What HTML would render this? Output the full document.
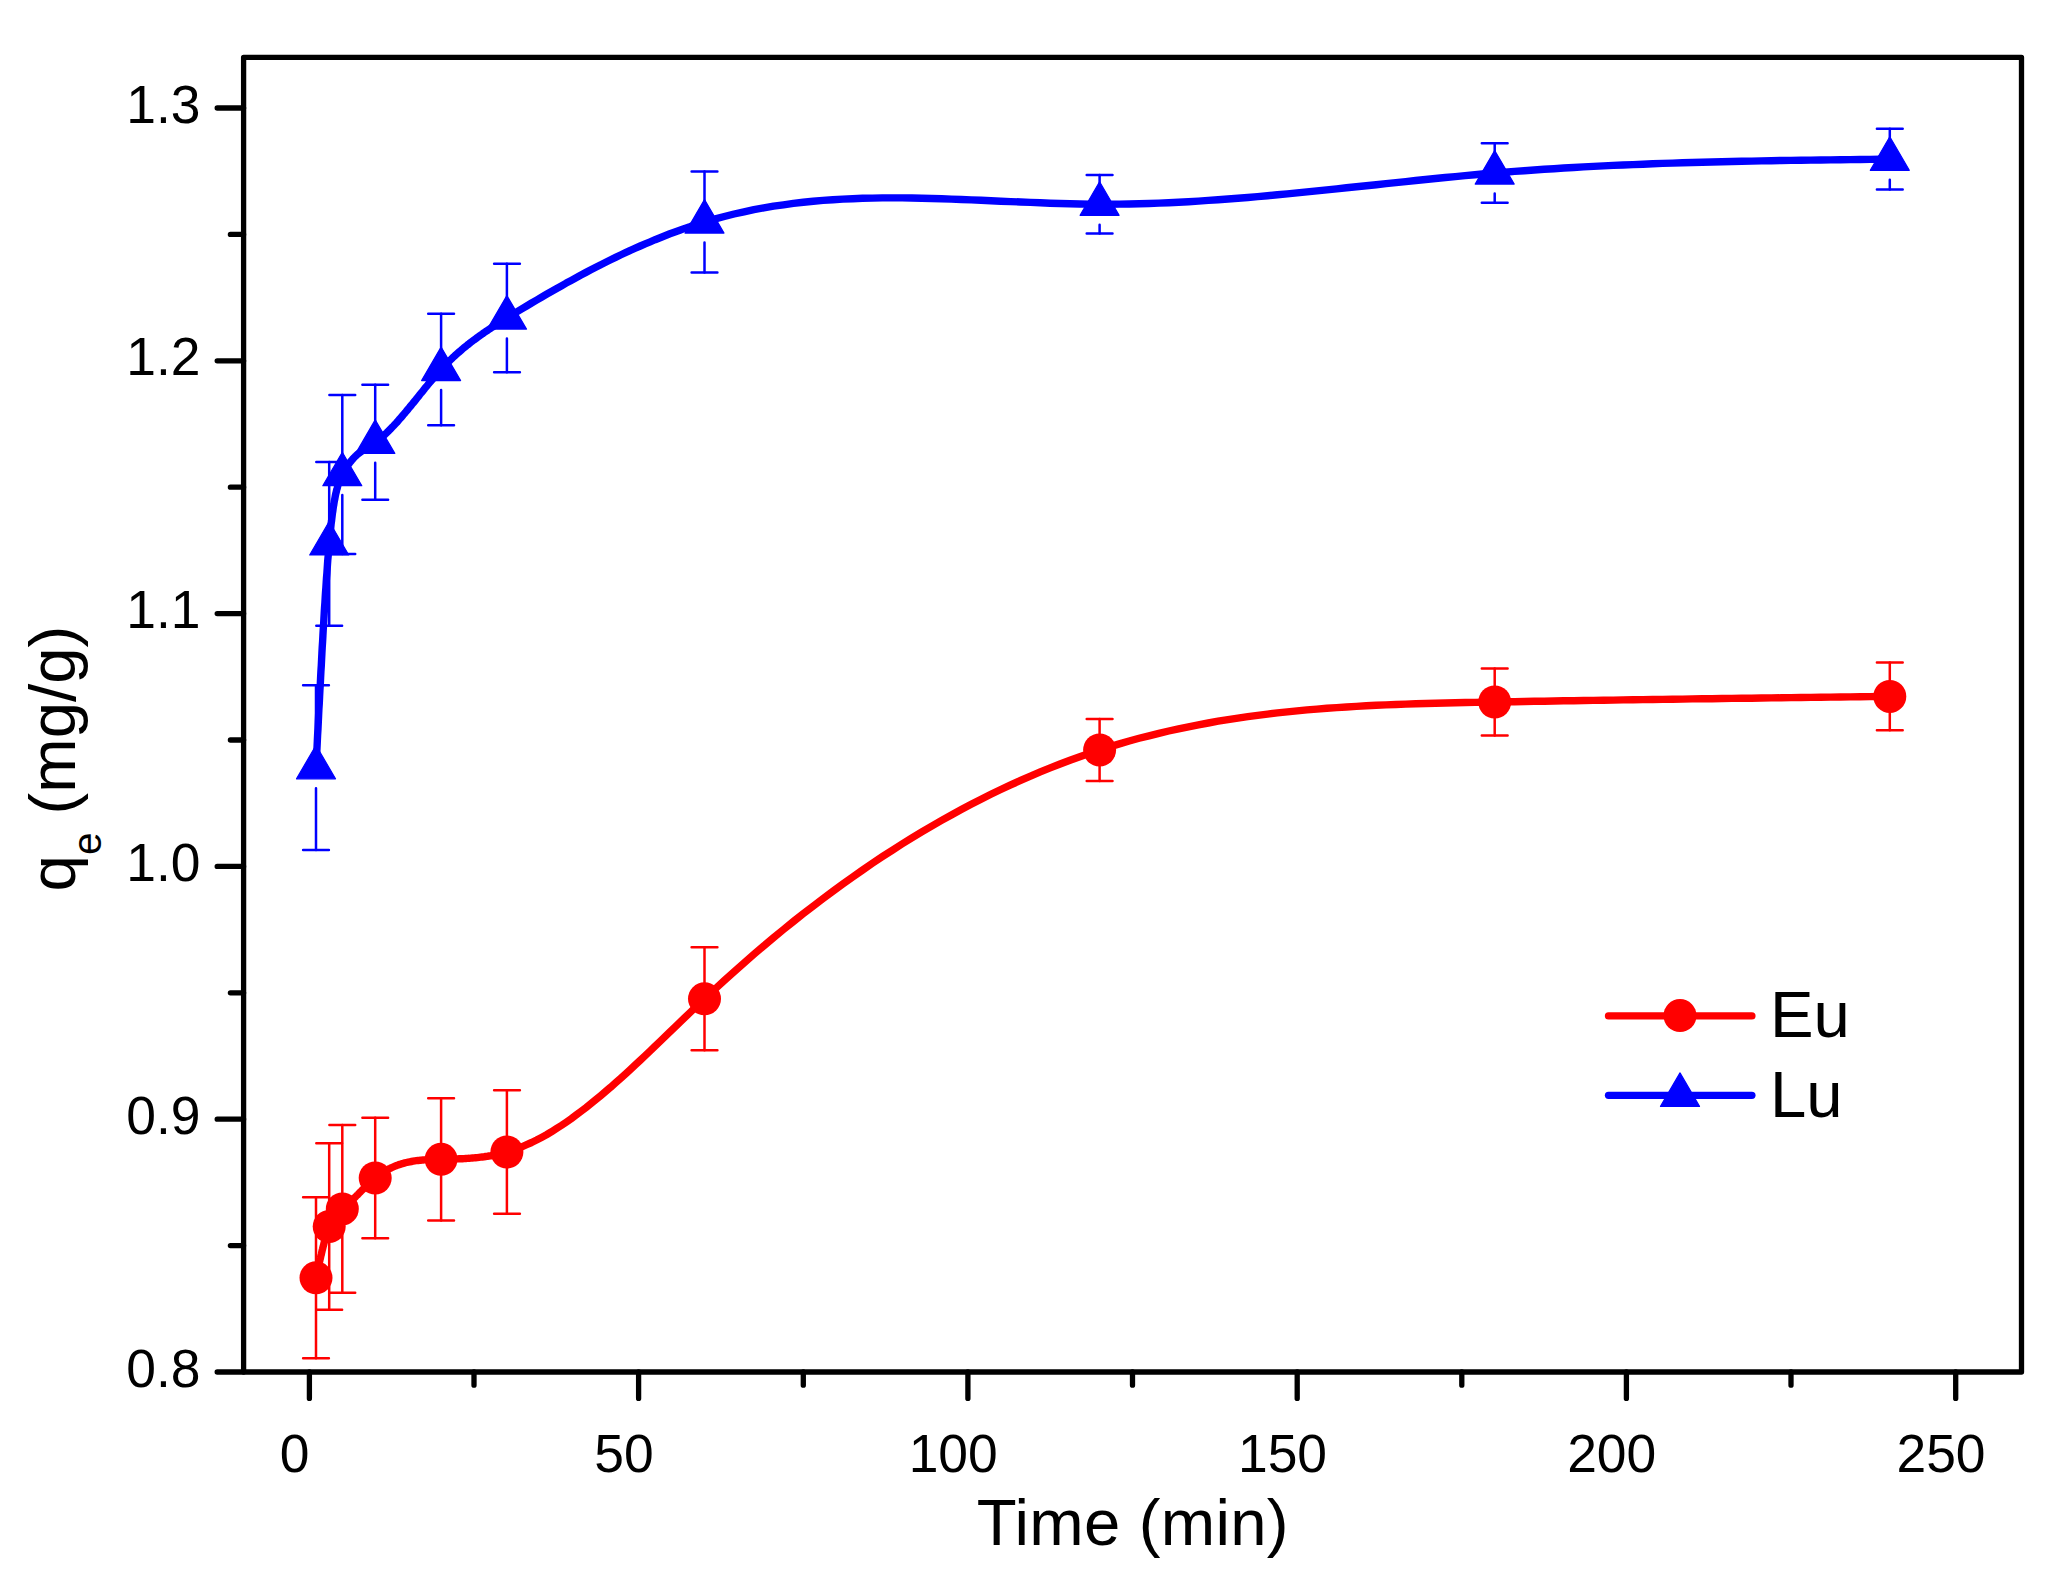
<!DOCTYPE html>
<html lang="en"><head><meta charset="utf-8"><title>qe vs Time</title>
<style>html,body{margin:0;padding:0;background:#fff;}body{width:2056px;height:1584px;overflow:hidden;}svg{display:block;}text{font-family:"Liberation Sans",Arial,Helvetica,sans-serif;fill:#000;}</style></head><body>
<svg width="2056" height="1584" viewBox="0 0 2056 1584">
<rect width="2056" height="1584" fill="#fff"/>
<g stroke="#ff0000" stroke-width="2.5" stroke-linecap="round" fill="none">
<path d="M316.0,1197.3V1358.3"/>
<path d="M303.1,1197.3H328.9M303.1,1358.3H328.9"/>
<path d="M329.2,1143.3V1309.7"/>
<path d="M316.3,1143.3H342.1M316.3,1309.7H342.1"/>
<path d="M342.3,1125.1V1292.7"/>
<path d="M329.4,1125.1H355.2M329.4,1292.7H355.2"/>
<path d="M375.2,1117.8V1238.2"/>
<path d="M362.4,1117.8H388.1M362.4,1238.2H388.1"/>
<path d="M441.1,1098.2V1220.4"/>
<path d="M428.2,1098.2H454.0M428.2,1220.4H454.0"/>
<path d="M506.9,1090.2V1213.8"/>
<path d="M494.1,1090.2H519.9M494.1,1213.8H519.9"/>
<path d="M704.5,947.3V1050.3"/>
<path d="M691.6,947.3H717.4M691.6,1050.3H717.4"/>
<path d="M1099.6,718.9V781.1"/>
<path d="M1086.7,718.9H1112.5M1086.7,781.1H1112.5"/>
<path d="M1494.7,668.6V735.4"/>
<path d="M1481.8,668.6H1507.6M1481.8,735.4H1507.6"/>
<path d="M1889.8,662.5V730.3"/>
<path d="M1876.9,662.5H1902.7M1876.9,730.3H1902.7"/>
</g>
<path d="M316.0,1277.8 L316.3,1276.3 L316.6,1274.8 L317.0,1273.3 L317.3,1271.8 L317.6,1270.3 L318.0,1268.8 L318.3,1267.4 L318.6,1265.9 L318.9,1264.4 L319.3,1263.0 L319.6,1261.5 L319.9,1260.1 L320.3,1258.6 L320.6,1257.2 L320.9,1255.8 L321.3,1254.4 L321.6,1253.0 L321.9,1251.6 L322.2,1250.3 L322.6,1248.9 L322.9,1247.6 L323.2,1246.3 L323.6,1245.0 L323.9,1243.7 L324.2,1242.5 L324.5,1241.2 L324.9,1240.0 L325.2,1238.8 L325.5,1237.6 L325.9,1236.5 L326.2,1235.4 L326.5,1234.3 L326.9,1233.2 L327.2,1232.2 L327.5,1231.1 L327.8,1230.2 L328.2,1229.2 L328.5,1228.3 L328.8,1227.4 L329.2,1226.5 L329.5,1225.7 L329.8,1224.9 L330.1,1224.1 L330.5,1223.3 L330.8,1222.6 L331.1,1221.9 L331.5,1221.3 L331.8,1220.6 L332.1,1220.0 L332.4,1219.4 L332.8,1218.9 L333.1,1218.3 L333.4,1217.8 L333.8,1217.3 L334.1,1216.9 L334.4,1216.4 L334.8,1216.0 L335.1,1215.5 L335.4,1215.1 L335.7,1214.7 L336.1,1214.4 L336.4,1214.0 L336.7,1213.7 L337.1,1213.3 L337.4,1213.0 L337.7,1212.7 L338.0,1212.4 L338.4,1212.1 L338.7,1211.8 L339.0,1211.5 L339.4,1211.2 L339.7,1211.0 L340.0,1210.7 L340.3,1210.5 L340.7,1210.2 L341.0,1209.9 L341.3,1209.7 L341.7,1209.4 L342.0,1209.2 L342.3,1208.9 L343.1,1208.2 L344.0,1207.6 L344.8,1206.9 L345.6,1206.2 L346.4,1205.4 L347.3,1204.7 L348.1,1204.0 L348.9,1203.2 L349.7,1202.4 L350.6,1201.7 L351.4,1200.9 L352.2,1200.1 L353.0,1199.3 L353.8,1198.5 L354.7,1197.6 L355.5,1196.8 L356.3,1196.0 L357.1,1195.2 L358.0,1194.4 L358.8,1193.5 L359.6,1192.7 L360.4,1191.9 L361.3,1191.0 L362.1,1190.2 L362.9,1189.4 L363.7,1188.6 L364.5,1187.8 L365.4,1187.0 L366.2,1186.2 L367.0,1185.4 L367.8,1184.6 L368.7,1183.8 L369.5,1183.0 L370.3,1182.3 L371.1,1181.5 L372.0,1180.8 L372.8,1180.1 L373.6,1179.4 L374.4,1178.7 L375.2,1178.0 L376.9,1176.7 L378.5,1175.5 L380.2,1174.3 L381.8,1173.2 L383.5,1172.1 L385.1,1171.1 L386.8,1170.1 L388.4,1169.2 L390.1,1168.4 L391.7,1167.6 L393.4,1166.9 L395.0,1166.2 L396.7,1165.5 L398.3,1164.9 L399.9,1164.4 L401.6,1163.8 L403.2,1163.4 L404.9,1162.9 L406.5,1162.5 L408.2,1162.1 L409.8,1161.8 L411.5,1161.5 L413.1,1161.2 L414.8,1160.9 L416.4,1160.7 L418.1,1160.5 L419.7,1160.3 L421.3,1160.2 L423.0,1160.0 L424.6,1159.9 L426.3,1159.8 L427.9,1159.7 L429.6,1159.6 L431.2,1159.6 L432.9,1159.5 L434.5,1159.5 L436.2,1159.4 L437.8,1159.4 L439.5,1159.3 L441.1,1159.3 L442.7,1159.3 L444.4,1159.2 L446.0,1159.2 L447.7,1159.2 L449.3,1159.1 L451.0,1159.1 L452.6,1159.0 L454.3,1159.0 L455.9,1158.9 L457.6,1158.9 L459.2,1158.8 L460.9,1158.7 L462.5,1158.7 L464.1,1158.6 L465.8,1158.5 L467.4,1158.4 L469.1,1158.3 L470.7,1158.1 L472.4,1158.0 L474.0,1157.9 L475.7,1157.7 L477.3,1157.6 L479.0,1157.4 L480.6,1157.2 L482.3,1157.0 L483.9,1156.8 L485.5,1156.5 L487.2,1156.3 L488.8,1156.0 L490.5,1155.8 L492.1,1155.5 L493.8,1155.2 L495.4,1154.8 L497.1,1154.5 L498.7,1154.1 L500.4,1153.7 L502.0,1153.3 L503.7,1152.9 L505.3,1152.5 L506.9,1152.0 L511.9,1150.5 L516.8,1148.7 L521.8,1146.8 L526.7,1144.7 L531.6,1142.5 L536.6,1140.0 L541.5,1137.4 L546.5,1134.7 L551.4,1131.8 L556.3,1128.7 L561.3,1125.5 L566.2,1122.2 L571.2,1118.7 L576.1,1115.1 L581.0,1111.4 L586.0,1107.6 L590.9,1103.7 L595.8,1099.7 L600.8,1095.6 L605.7,1091.4 L610.7,1087.2 L615.6,1082.8 L620.5,1078.4 L625.5,1073.9 L630.4,1069.4 L635.4,1064.8 L640.3,1060.2 L645.2,1055.6 L650.2,1050.9 L655.1,1046.1 L660.1,1041.4 L665.0,1036.7 L669.9,1031.9 L674.9,1027.1 L679.8,1022.4 L684.7,1017.6 L689.7,1012.9 L694.6,1008.1 L699.6,1003.5 L704.5,998.8 L714.4,989.6 L724.3,980.5 L734.1,971.7 L744.0,962.9 L753.9,954.3 L763.8,945.9 L773.6,937.6 L783.5,929.5 L793.4,921.5 L803.3,913.7 L813.2,906.1 L823.0,898.6 L832.9,891.2 L842.8,884.0 L852.7,877.0 L862.5,870.1 L872.4,863.3 L882.3,856.7 L892.2,850.3 L902.0,844.0 L911.9,837.9 L921.8,831.9 L931.7,826.1 L941.6,820.4 L951.4,814.9 L961.3,809.5 L971.2,804.3 L981.1,799.2 L990.9,794.3 L1000.8,789.5 L1010.7,784.9 L1020.6,780.4 L1030.5,776.1 L1040.3,771.9 L1050.2,767.9 L1060.1,764.0 L1070.0,760.3 L1079.8,756.7 L1089.7,753.3 L1099.6,750.0 L1109.5,746.9 L1119.4,743.9 L1129.2,741.0 L1139.1,738.3 L1149.0,735.8 L1158.9,733.3 L1168.7,731.0 L1178.6,728.8 L1188.5,726.8 L1198.4,724.8 L1208.3,723.0 L1218.1,721.2 L1228.0,719.6 L1237.9,718.1 L1247.8,716.7 L1257.6,715.3 L1267.5,714.1 L1277.4,712.9 L1287.3,711.9 L1297.1,710.9 L1307.0,709.9 L1316.9,709.1 L1326.8,708.3 L1336.7,707.6 L1346.5,707.0 L1356.4,706.4 L1366.3,705.8 L1376.2,705.3 L1386.0,704.9 L1395.9,704.5 L1405.8,704.1 L1415.7,703.8 L1425.6,703.5 L1435.4,703.2 L1445.3,703.0 L1455.2,702.8 L1465.1,702.5 L1474.9,702.4 L1484.8,702.2 L1494.7,702.0 L1504.6,701.8 L1514.5,701.7 L1524.3,701.5 L1534.2,701.3 L1544.1,701.2 L1554.0,701.0 L1563.8,700.8 L1573.7,700.7 L1583.6,700.5 L1593.5,700.4 L1603.4,700.2 L1613.2,700.1 L1623.1,699.9 L1633.0,699.8 L1642.9,699.6 L1652.7,699.5 L1662.6,699.4 L1672.5,699.2 L1682.4,699.1 L1692.2,698.9 L1702.1,698.8 L1712.0,698.7 L1721.9,698.5 L1731.8,698.4 L1741.6,698.3 L1751.5,698.2 L1761.4,698.0 L1771.3,697.9 L1781.1,697.8 L1791.0,697.6 L1800.9,697.5 L1810.8,697.4 L1820.7,697.3 L1830.5,697.1 L1840.4,697.0 L1850.3,696.9 L1860.2,696.8 L1870.0,696.6 L1879.9,696.5 L1889.8,696.4" fill="none" stroke="#ff0000" stroke-width="7.4" stroke-linejoin="round" stroke-linecap="round"/>
<g fill="#ff0000">
<circle cx="316.0" cy="1277.8" r="16.5"/>
<circle cx="329.2" cy="1226.5" r="16.5"/>
<circle cx="342.3" cy="1208.9" r="16.5"/>
<circle cx="375.2" cy="1178.0" r="16.5"/>
<circle cx="441.1" cy="1159.3" r="16.5"/>
<circle cx="506.9" cy="1152.0" r="16.5"/>
<circle cx="704.5" cy="998.8" r="16.5"/>
<circle cx="1099.6" cy="750.0" r="16.5"/>
<circle cx="1494.7" cy="702.0" r="16.5"/>
<circle cx="1889.8" cy="696.4" r="16.5"/>
</g>
<g stroke="#0000ff" stroke-width="2.5" stroke-linecap="round" fill="none">
<path d="M316.0,685.3V747.2M316.0,788.2V850.1"/>
<path d="M303.1,685.3H328.9M303.1,850.1H328.9"/>
<path d="M329.2,462.0V523.4M329.2,564.4V625.8"/>
<path d="M316.3,462.0H342.1M316.3,625.8H342.1"/>
<path d="M342.3,395.1V454.1M342.3,495.1V554.1"/>
<path d="M329.4,395.1H355.2M329.4,554.1H355.2"/>
<path d="M375.2,384.8V421.8M375.2,462.8V499.8"/>
<path d="M362.4,384.8H388.1M362.4,499.8H388.1"/>
<path d="M441.1,313.7V349.0M441.1,390.0V425.3"/>
<path d="M428.2,313.7H454.0M428.2,425.3H454.0"/>
<path d="M506.9,263.8V297.5M506.9,338.5V372.2"/>
<path d="M494.1,263.8H519.9M494.1,372.2H519.9"/>
<path d="M704.5,171.5V201.5M704.5,242.5V272.5"/>
<path d="M691.6,171.5H717.4M691.6,272.5H717.4"/>
<path d="M1099.6,175.0V183.7M1099.6,224.7V233.4"/>
<path d="M1086.7,175.0H1112.5M1086.7,233.4H1112.5"/>
<path d="M1494.7,143.3V152.5M1494.7,193.5V202.7"/>
<path d="M1481.8,143.3H1507.6M1481.8,202.7H1507.6"/>
<path d="M1889.8,128.8V138.7M1889.8,179.7V189.6"/>
<path d="M1876.9,128.8H1902.7M1876.9,189.6H1902.7"/>
</g>
<path d="M316.0,767.7 L316.3,761.2 L316.6,754.6 L317.0,748.1 L317.3,741.6 L317.6,735.1 L318.0,728.6 L318.3,722.1 L318.6,715.7 L318.9,709.2 L319.3,702.9 L319.6,696.5 L319.9,690.2 L320.3,683.9 L320.6,677.7 L320.9,671.6 L321.3,665.4 L321.6,659.4 L321.9,653.4 L322.2,647.5 L322.6,641.6 L322.9,635.8 L323.2,630.1 L323.6,624.4 L323.9,618.9 L324.2,613.4 L324.5,608.0 L324.9,602.7 L325.2,597.5 L325.5,592.4 L325.9,587.4 L326.2,582.5 L326.5,577.7 L326.9,573.1 L327.2,568.5 L327.5,564.1 L327.8,559.8 L328.2,555.6 L328.5,551.6 L328.8,547.7 L329.2,543.9 L329.5,540.3 L329.8,536.8 L330.1,533.4 L330.5,530.2 L330.8,527.1 L331.1,524.1 L331.5,521.3 L331.8,518.6 L332.1,516.0 L332.4,513.5 L332.8,511.1 L333.1,508.8 L333.4,506.6 L333.8,504.5 L334.1,502.5 L334.4,500.7 L334.8,498.9 L335.1,497.1 L335.4,495.5 L335.7,494.0 L336.1,492.5 L336.4,491.1 L336.7,489.7 L337.1,488.5 L337.4,487.3 L337.7,486.1 L338.0,485.0 L338.4,484.0 L338.7,483.0 L339.0,482.1 L339.4,481.2 L339.7,480.3 L340.0,479.5 L340.3,478.8 L340.7,478.0 L341.0,477.3 L341.3,476.6 L341.7,475.9 L342.0,475.2 L342.3,474.6 L343.1,473.0 L344.0,471.5 L344.8,470.1 L345.6,468.7 L346.4,467.4 L347.3,466.1 L348.1,464.9 L348.9,463.8 L349.7,462.7 L350.6,461.6 L351.4,460.6 L352.2,459.7 L353.0,458.8 L353.8,457.9 L354.7,457.0 L355.5,456.2 L356.3,455.5 L357.1,454.7 L358.0,454.0 L358.8,453.3 L359.6,452.7 L360.4,452.1 L361.3,451.5 L362.1,450.9 L362.9,450.3 L363.7,449.7 L364.5,449.2 L365.4,448.7 L366.2,448.1 L367.0,447.6 L367.8,447.1 L368.7,446.6 L369.5,446.1 L370.3,445.6 L371.1,445.0 L372.0,444.5 L372.8,444.0 L373.6,443.4 L374.4,442.9 L375.2,442.3 L376.9,441.1 L378.5,439.8 L380.2,438.5 L381.8,437.1 L383.5,435.7 L385.1,434.2 L386.8,432.7 L388.4,431.1 L390.1,429.4 L391.7,427.7 L393.4,426.0 L395.0,424.3 L396.7,422.5 L398.3,420.6 L399.9,418.7 L401.6,416.9 L403.2,414.9 L404.9,413.0 L406.5,411.0 L408.2,409.0 L409.8,407.0 L411.5,405.0 L413.1,403.0 L414.8,401.0 L416.4,398.9 L418.1,396.9 L419.7,394.8 L421.3,392.8 L423.0,390.8 L424.6,388.7 L426.3,386.7 L427.9,384.7 L429.6,382.7 L431.2,380.8 L432.9,378.8 L434.5,376.9 L436.2,375.0 L437.8,373.1 L439.5,371.3 L441.1,369.5 L442.7,367.7 L444.4,366.0 L446.0,364.3 L447.7,362.6 L449.3,361.0 L451.0,359.4 L452.6,357.8 L454.3,356.3 L455.9,354.8 L457.6,353.3 L459.2,351.9 L460.9,350.4 L462.5,349.0 L464.1,347.7 L465.8,346.3 L467.4,345.0 L469.1,343.7 L470.7,342.4 L472.4,341.1 L474.0,339.9 L475.7,338.7 L477.3,337.5 L479.0,336.3 L480.6,335.1 L482.3,334.0 L483.9,332.8 L485.5,331.7 L487.2,330.6 L488.8,329.5 L490.5,328.4 L492.1,327.3 L493.8,326.3 L495.4,325.2 L497.1,324.2 L498.7,323.1 L500.4,322.1 L502.0,321.1 L503.7,320.0 L505.3,319.0 L506.9,318.0 L511.9,315.0 L516.8,311.9 L521.8,308.9 L526.7,306.0 L531.6,303.0 L536.6,300.1 L541.5,297.2 L546.5,294.3 L551.4,291.5 L556.3,288.7 L561.3,285.9 L566.2,283.1 L571.2,280.4 L576.1,277.7 L581.0,275.0 L586.0,272.4 L590.9,269.8 L595.8,267.3 L600.8,264.7 L605.7,262.3 L610.7,259.8 L615.6,257.4 L620.5,255.0 L625.5,252.7 L630.4,250.4 L635.4,248.2 L640.3,246.0 L645.2,243.9 L650.2,241.8 L655.1,239.7 L660.1,237.7 L665.0,235.8 L669.9,233.8 L674.9,232.0 L679.8,230.2 L684.7,228.4 L689.7,226.8 L694.6,225.1 L699.6,223.5 L704.5,222.0 L714.4,219.1 L724.3,216.5 L734.1,214.0 L744.0,211.8 L753.9,209.7 L763.8,207.9 L773.6,206.2 L783.5,204.8 L793.4,203.4 L803.3,202.3 L813.2,201.3 L823.0,200.4 L832.9,199.7 L842.8,199.1 L852.7,198.7 L862.5,198.3 L872.4,198.1 L882.3,197.9 L892.2,197.9 L902.0,197.9 L911.9,198.0 L921.8,198.2 L931.7,198.5 L941.6,198.7 L951.4,199.1 L961.3,199.5 L971.2,199.9 L981.1,200.3 L990.9,200.7 L1000.8,201.2 L1010.7,201.6 L1020.6,202.0 L1030.5,202.4 L1040.3,202.8 L1050.2,203.2 L1060.1,203.5 L1070.0,203.8 L1079.8,204.0 L1089.7,204.1 L1099.6,204.2 L1109.5,204.2 L1119.4,204.1 L1129.2,204.0 L1139.1,203.7 L1149.0,203.5 L1158.9,203.1 L1168.7,202.7 L1178.6,202.2 L1188.5,201.7 L1198.4,201.1 L1208.3,200.4 L1218.1,199.8 L1228.0,199.0 L1237.9,198.3 L1247.8,197.5 L1257.6,196.6 L1267.5,195.7 L1277.4,194.8 L1287.3,193.9 L1297.1,192.9 L1307.0,191.9 L1316.9,190.9 L1326.8,189.9 L1336.7,188.9 L1346.5,187.8 L1356.4,186.8 L1366.3,185.7 L1376.2,184.7 L1386.0,183.6 L1395.9,182.6 L1405.8,181.6 L1415.7,180.5 L1425.6,179.5 L1435.4,178.5 L1445.3,177.5 L1455.2,176.6 L1465.1,175.6 L1474.9,174.7 L1484.8,173.8 L1494.7,173.0 L1504.6,172.2 L1514.5,171.4 L1524.3,170.7 L1534.2,170.0 L1544.1,169.3 L1554.0,168.7 L1563.8,168.0 L1573.7,167.5 L1583.6,166.9 L1593.5,166.4 L1603.4,165.9 L1613.2,165.4 L1623.1,165.0 L1633.0,164.6 L1642.9,164.2 L1652.7,163.8 L1662.6,163.4 L1672.5,163.1 L1682.4,162.8 L1692.2,162.5 L1702.1,162.2 L1712.0,162.0 L1721.9,161.7 L1731.8,161.5 L1741.6,161.3 L1751.5,161.1 L1761.4,160.9 L1771.3,160.7 L1781.1,160.5 L1791.0,160.4 L1800.9,160.2 L1810.8,160.1 L1820.7,160.0 L1830.5,159.9 L1840.4,159.7 L1850.3,159.6 L1860.2,159.5 L1870.0,159.4 L1879.9,159.3 L1889.8,159.2" fill="none" stroke="#0000ff" stroke-width="7.4" stroke-linejoin="round" stroke-linecap="round"/>
<g fill="#0000ff" stroke="#0000ff" stroke-width="1.2" stroke-linejoin="round">
<path d="M316.0,745.3L335.5,778.8L296.5,778.8Z"/>
<path d="M329.2,521.5L348.7,555.0L309.7,555.0Z"/>
<path d="M342.3,452.2L361.8,485.7L322.8,485.7Z"/>
<path d="M375.2,419.9L394.8,453.4L355.8,453.4Z"/>
<path d="M441.1,347.1L460.6,380.6L421.6,380.6Z"/>
<path d="M506.9,295.6L526.5,329.1L487.4,329.1Z"/>
<path d="M704.5,199.6L724.0,233.1L685.0,233.1Z"/>
<path d="M1099.6,181.8L1119.1,215.3L1080.1,215.3Z"/>
<path d="M1494.7,150.6L1514.2,184.1L1475.2,184.1Z"/>
<path d="M1889.8,136.8L1909.3,170.3L1870.3,170.3Z"/>
</g>
<g stroke="#000" stroke-width="5.3" stroke-linecap="round" stroke-linejoin="round" fill="none">
<rect x="243.6" y="57.3" width="1777.9" height="1314.7"/>
<path d="M309.4,1372.0v26.4M474.0,1372.0v13.2M638.6,1372.0v26.4M803.3,1372.0v13.2M967.9,1372.0v26.4M1132.5,1372.0v13.2M1297.2,1372.0v26.4M1461.8,1372.0v13.2M1626.4,1372.0v26.4M1791.0,1372.0v13.2M1955.7,1372.0v26.4M243.6,1372.0h-26.4M243.6,1245.6h-13.2M243.6,1119.2h-26.4M243.6,992.8h-13.2M243.6,866.4h-26.4M243.6,740.0h-13.2M243.6,613.6h-26.4M243.6,487.2h-13.2M243.6,360.8h-26.4M243.6,234.4h-13.2M243.6,108.0h-26.4"/>
</g>
<g font-size="53.4px" text-anchor="middle">
<text x="294.7" y="1471.9">0</text>
<text x="623.9" y="1471.9">50</text>
<text x="953.2" y="1471.9">100</text>
<text x="1282.5" y="1471.9">150</text>
<text x="1611.7" y="1471.9">200</text>
<text x="1941.0" y="1471.9">250</text>
</g>
<g font-size="53.4px" text-anchor="end">
<text x="200.5" y="1386.6">0.8</text>
<text x="200.5" y="1133.8">0.9</text>
<text x="200.5" y="881.0">1.0</text>
<text x="200.5" y="628.2">1.1</text>
<text x="200.5" y="375.4">1.2</text>
<text x="200.5" y="122.6">1.3</text>
</g>
<text x="1132.8" y="1544.9" font-size="65.3px" text-anchor="middle" letter-spacing="0.25">Time (min)</text>
<text transform="translate(75,891.4) rotate(-90)" font-size="65.3px" letter-spacing="0">q<tspan font-size="40.5px" dy="25.5">e</tspan><tspan dy="-25.5"> (mg/g)</tspan></text>
<g stroke-width="7.3" stroke-linecap="round" fill="none">
<path d="M1608.5,1015.9H1751.9" stroke="#ff0000"/>
<path d="M1608.5,1095.3H1751.9" stroke="#0000ff"/>
</g>
<circle cx="1680" cy="1015.6" r="16.5" fill="#ff0000"/>
<path d="M1680.0,1072.9L1699.5,1106.4L1660.5,1106.4Z" fill="#0000ff" stroke="#0000ff" stroke-width="1.2" stroke-linejoin="round"/>
<text x="1769.9" y="1037" font-size="65.3px">Eu</text>
<text x="1769.9" y="1117.3" font-size="65.3px">Lu</text>
</svg></body></html>
